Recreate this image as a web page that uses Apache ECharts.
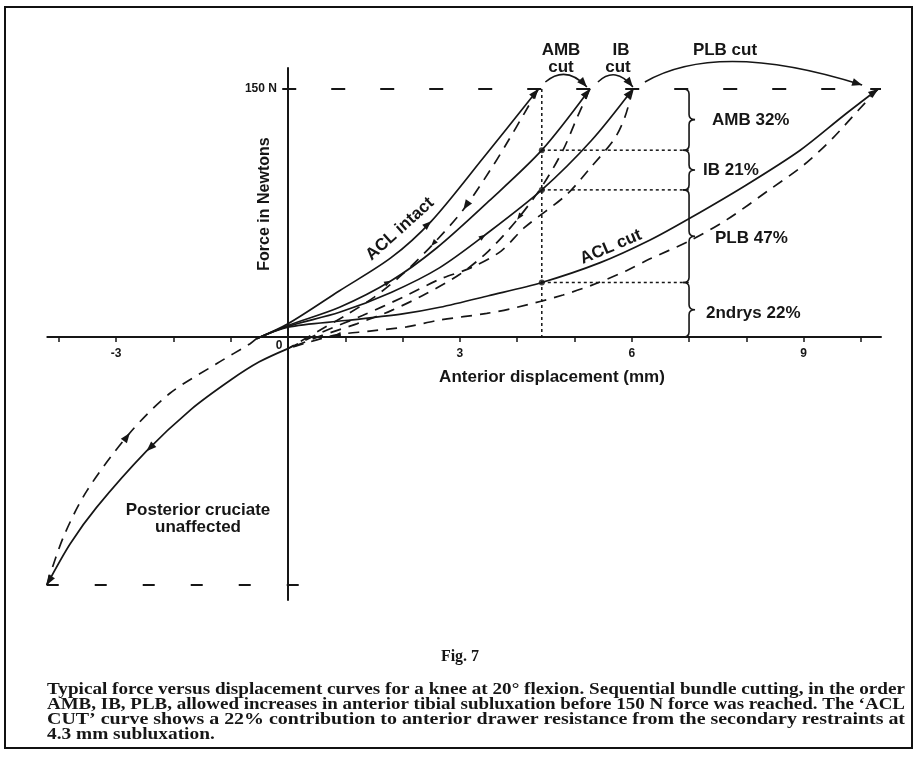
<!DOCTYPE html>
<html><head><meta charset="utf-8">
<script src="https://cdn.jsdelivr.net/npm/echarts@6/dist/echarts.min.js"></script>
<style>html,body{margin:0;padding:0;background:#fff}#c{width:921px;height:757px}</style>
</head><body><div id="c"></div><script>
// ---------------- data (mm, N) ----------------
const xTickValues = [-4,-3,-2,-1,0,1,2,3,4,5,6,7,8,9,10];
const xLabelValues = [-3,3,6,9];
const yLabelValues = [150];

const aclIntactLoad   = [[-0.55,-1],[0,8],[0.9,28],[1.8,48],[2.5,70],[3.4,108],[4.37,150]];
const aclIntactUnload = [[4.37,150],[4.12,135],[3.85,119],[3.55,102],[3.06,77],[2.5,55],[2.0,38],[1.5,24],[1.0,13],[0.5,3],[0,-7]];
const ambCutLoad      = [[-0.55,-1],[0,7],[0.9,18],[1.8,34],[2.6,54],[3.5,82],[4.43,113],[5.27,150]];
const ambCutUnload    = [[5.27,150],[5.05,133],[4.8,113],[4.45,92],[4.0,71],[3.5,52],[3.0,38],[2.4,26],[1.8,16],[1.2,8],[0.6,1],[0,-7]];
const ibCutLoad       = [[-0.55,-1],[0,6.5],[0.9,15],[1.8,27],[2.65,42],[3.45,62],[4.43,89],[5.3,119],[6.02,150]];
const ibCutUnload     = [[6.02,150],[5.88,133],[5.7,120],[5.27,102],[4.86,86],[4.12,66],[3.72,52],[3.2,42],[2.65,35],[2.0,24],[1.3,13],[0.6,3],[0,-7]];
const aclCutLoad      = [[-0.55,-1],[0,6],[1,10],[2,14],[2.65,18],[3.5,25],[4.43,33],[5.45,45],[6.32,58.7],[7.02,72],[8,92],[8.94,113],[9.7,134],[10.3,150]];
const aclCutUnload    = [[10.3,150],[9.95,137],[9.5,120],[9.0,104],[8.4,89],[7.66,71],[7.0,58],[6.3,47],[5.9,40],[5.39,32.5],[4.8,25.4],[4.0,18],[3.47,14.3],[2.65,10.3],[2.07,6.2],[1.43,3.6],[0.8,1],[0,-7]];
const posteriorLoad   = [[0,-7],[-0.5,-15],[-1,-26],[-1.7,-44],[-2.47,-69],[-3.34,-103],[-3.8,-125],[-4.21,-150]];
const posteriorUnload = [[-4.21,-150],[-3.92,-121],[-3.51,-93],[-2.76,-58],[-2.06,-34],[-1.24,-16],[-0.66,-4],[-0.55,-1]];

const refLineTop    = [[-0.1,150],[10.35,150]];
const refLineBottom = [[-4.21,-150],[0.2,-150]];
const subluxation   = 4.43;
const bundleLevels  = [113, 89, 33];
const braceX        = 7.0;
const braceBounds   = [150, 113, 89, 33, 0];
const braceLabels   = ['AMB 32%', 'IB 21%', 'PLB 47%', '2ndrys 22%'];

// arrows: [curve, tip index, size] (direction from previous point)
const arrowSpecs = [
  [aclIntactLoad, 6, 10], [aclIntactLoad, 4, 9],
  [ambCutLoad, 7, 10], [ambCutLoad, 3, 7],
  [ibCutLoad, 8, 10], [ibCutLoad, 5, 7],
  [aclCutLoad, 13, 10],
  [aclIntactUnload, 4, 10], [aclIntactUnload, 5, 7],
  [ambCutUnload, 4, 7], [aclCutUnload, 16, 7],
  [posteriorLoad, 4, 10], [posteriorLoad, 7, 10],
  [posteriorUnload, 3, 10]
];
const cutSequence = [aclIntactLoad, ambCutLoad, ibCutLoad, aclCutLoad];
const arcStyle = [
  {dx0:7, dy0:-7, dx1:-3, dy1:-2, lift:20, shift:0},
  {dx0:8, dy0:-7, dx1:0, dy1:-2, lift:19, shift:0},
  {dx0:12, dy0:-7, dx1:-16, dy1:-4, lift:44, shift:-35}
];

// ---------------- styles ----------------
const INK = '#161616';
const SANS = '"Liberation Sans", Arial, Helvetica, sans-serif';
const SERIF = '"Liberation Serif", "Times New Roman", serif';
const X_MIN = -4.2, X_MAX = 10.35, Y_MIN = -159, Y_MAX = 162.7;
const GRID = {left:47.3, top:68, width:833.7, height:532};

function curve(name, data, dashed) {
  return {type:'line', name, data, symbol:'none', showSymbol:false, smooth:0.3, clip:false,
    silent:true, animation:false, z:3,
    lineStyle:{color:INK, width:1.7, type: dashed ? [11,8] : 'solid'}};
}
function straight(data, type, width) {
  return {type:'line', data, symbol:'none', showSymbol:false, clip:false, silent:true,
    animation:false, z:2, lineStyle:{color:INK, width:width, type:type}};
}

const series = [
  curve('ACL intact', aclIntactLoad, false), curve('ACL intact return', aclIntactUnload, true),
  curve('AMB cut', ambCutLoad, false), curve('AMB cut return', ambCutUnload, true),
  curve('IB cut', ibCutLoad, false), curve('IB cut return', ibCutUnload, true),
  curve('ACL cut', aclCutLoad, false), curve('ACL cut return', aclCutUnload, true),
  curve('Posterior', posteriorLoad, false), curve('Posterior return', posteriorUnload, true),
  straight(refLineTop, [14,35], 2),
  straight(refLineBottom, [12,36], 2),
  straight([[subluxation, braceBounds[0]], [subluxation, 0]], [3,3], 1.5),
];
bundleLevels.forEach(l => series.push(straight([[subluxation, l], [braceX, l]], [3,3], 1.5)));
series.push({type:'scatter', data: bundleLevels.map(l => [subluxation, l]), symbol:'circle',
  symbolSize:6, itemStyle:{color:INK}, silent:true, animation:false, z:4});

// braces
const braceData = [];
for (let i = 0; i < braceBounds.length - 1; i++) braceData.push([braceX, braceBounds[i], braceBounds[i+1]]);
series.push({type:'custom', data: braceData, encode:{x:0, y:[1,2]}, silent:true, animation:false, z:4,
  renderItem(params, api) {
    const t = api.coord([api.value(0), api.value(1)]);
    const b = api.coord([api.value(0), api.value(2)]);
    const x = t[0], yt = t[1], yb = b[1], ym = (yt + yb) / 2;
    const d = `M${x-6},${yt} Q${x},${yt} ${x},${yt+5} L${x},${ym-5} Q${x},${ym} ${x+6},${ym} Q${x},${ym} ${x},${ym+5} L${x},${yb-5} Q${x},${yb} ${x-6},${yb}`;
    return {type:'path', shape:{pathData:d}, style:{stroke:INK, lineWidth:1.6, fill:null}};
  }});

// arrowheads on curves
function arrowPoly(tip, from, L, W) {
  let dx = tip[0]-from[0], dy = tip[1]-from[1];
  const n = Math.hypot(dx, dy) || 1; dx /= n; dy /= n;
  const bx = tip[0]-dx*L, by = tip[1]-dy*L;
  return [[tip[0], tip[1]], [bx - dy*W, by + dx*W], [bx + dy*W, by - dx*W]];
}
const arrowData = arrowSpecs.map(([c, i, size]) => [c[i][0], c[i][1], c[i-1][0], c[i-1][1], size]);
series.push({type:'custom', data: arrowData, encode:{x:0, y:1}, silent:true, animation:false, z:5,
  renderItem(params, api) {
    const tip = api.coord([api.value(0), api.value(1)]);
    const from = api.coord([api.value(2), api.value(3)]);
    const L = api.value(4);
    return {type:'polygon', shape:{points: arrowPoly(tip, from, L, L*0.38)}, style:{fill:INK}};
  }});

// "cut" arcs between successive endpoints
const arcData = [];
for (let i = 0; i < cutSequence.length - 1; i++) {
  const a = cutSequence[i][cutSequence[i].length-1], b = cutSequence[i+1][cutSequence[i+1].length-1];
  arcData.push([a[0], a[1], b[0], b[1], i]);
}
series.push({type:'custom', data: arcData, encode:{x:[0,2], y:[1,3]}, silent:true, animation:false, z:5,
  renderItem(params, api) {
    const s = arcStyle[api.value(4)];
    const p0 = api.coord([api.value(0), api.value(1)]);
    const p1 = api.coord([api.value(2), api.value(3)]);
    const x0 = p0[0]+s.dx0, y0 = p0[1]+s.dy0, x1 = p1[0]+s.dx1, y1 = p1[1]+s.dy1;
    const cx = (x0+x1)/2 + s.shift, cy = (y0+y1)/2 - s.lift;
    return {type:'group', children:[
      {type:'path', shape:{pathData:`M${x0},${y0} Q${cx},${cy} ${x1},${y1}`}, style:{stroke:INK, lineWidth:1.5, fill:null}},
      {type:'polygon', shape:{points: arrowPoly([x1,y1],[cx,cy],10,4)}, style:{fill:INK}}
    ]};
  }});

// ---------------- text ----------------
function txt(text, x, y, opt) {
  opt = opt || {};
  return {type:'text', x, y, rotation: opt.rot || 0, scaleX: opt.sx || 1, silent:true, z:10,
    style:{text, fill:INK, fontFamily: opt.family || SANS, fontSize: opt.size || 17,
      fontWeight: opt.weight || 'bold', align: opt.align || 'center', verticalAlign:'middle'}};
}
const deg = Math.PI / 180;
const graphics = [
  {type:'rect', shape:{x:5, y:7, width:907, height:741}, style:{stroke:'#111', lineWidth:2, fill:null}, silent:true, z:0},
  txt('Force in Newtons', 265, 204, {rot: 90*deg, size:16}),
  txt('Anterior displacement (mm)', 552, 377, {size:17}),
  txt('0', 279, 346, {size:12}),
  txt('AMB', 561, 50), txt('cut', 561, 67),
  txt('IB', 621, 50), txt('cut', 618, 67),
  txt('PLB cut', 725, 50),
  txt('ACL intact', 400, 229, {rot: 42*deg}),
  txt('ACL cut', 611, 247, {rot: 23*deg}),
  txt('Posterior cruciate', 198, 510), txt('unaffected', 198, 527),
  txt(braceLabels[0], 712, 120, {align:'left'}),
  txt(braceLabels[1], 703, 170, {align:'left'}),
  txt(braceLabels[2], 715, 238, {align:'left'}),
  txt(braceLabels[3], 706, 313, {align:'left'}),
  txt('Fig. 7', 460, 657, {family: SERIF, size:16})
];
// caption, justified by horizontal scaling
const captionLines = [
  'Typical force versus displacement curves for a knee at 20\u00b0 flexion. Sequential bundle cutting, in the order',
  'AMB, IB, PLB, allowed increases in anterior tibial subluxation before 150 N force was reached. The \u2018ACL',
  'CUT\u2019 curve shows a 22% contribution to anterior drawer resistance from the secondary restraints at',
  '4.3 mm subluxation.'
];
const CAP_SIZE = 17;
const ctx = document.createElement('canvas').getContext('2d');
ctx.font = 'bold ' + CAP_SIZE + 'px "Liberation Serif"';
const capLeft = 47, capRight = 905;
let scales = captionLines.slice(0,3).map(l => (capRight - capLeft) / ctx.measureText(l).width);
const avgScale = scales.reduce((a,b)=>a+b,0) / scales.length;
scales.push(avgScale);
captionLines.forEach((l, i) => graphics.push(txt(l, capLeft, 690 + i*15, {family: SERIF, size:CAP_SIZE, align:'left', sx: scales[i]})));

// axes placed through the origin (offset from grid edge)
const xAxisOffset = -GRID.height * (0 - Y_MIN) / (Y_MAX - Y_MIN);
const yAxisOffset = -GRID.width * (0 - X_MIN) / (X_MAX - X_MIN);

// ---------------- chart ----------------
const chart = echarts.init(document.getElementById('c'), null, {renderer:'canvas'});
chart.setOption({
  animation:false,
  backgroundColor:'#fff',
  grid:Object.assign({containLabel:false}, GRID),
  xAxis:{type:'value', min:X_MIN, max:X_MAX, position:'bottom', offset:xAxisOffset,
    axisLine:{onZero:false, lineStyle:{color:INK, width:2}},
    axisTick:{show:true, customValues:xTickValues, length:5, lineStyle:{color:INK, width:1.5}},
    axisLabel:{show:true, customValues:xLabelValues, margin:11, fontSize:12, fontWeight:'bold', color:INK, fontFamily:SANS},
    splitLine:{show:false}},
  yAxis:{type:'value', min:Y_MIN, max:Y_MAX, position:'left', offset:yAxisOffset,
    axisLine:{onZero:false, lineStyle:{color:INK, width:2}},
    axisTick:{show:false},
    axisLabel:{show:true, customValues:yLabelValues, formatter: v => v + ' N', margin:11, fontSize:12, fontWeight:'bold', color:INK, fontFamily:SANS},
    splitLine:{show:false}},
  series,
  graphic: graphics
});
</script></body></html>
